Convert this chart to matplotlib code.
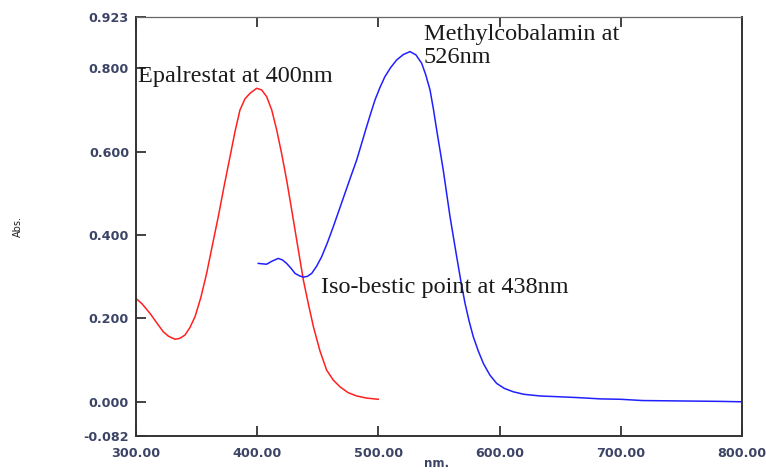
import matplotlib
matplotlib.use("Agg")
import matplotlib.pyplot as plt

# Epalrestat (red)
red_nm = [300, 305, 311.6, 317, 322.5, 327, 332.2, 336, 340.4, 344.5, 348.7, 353.5, 358.3, 363, 367.9, 372.7,
          377.6, 381.7, 385.8, 390, 394.1, 399.6, 403.7, 407.8, 412, 416.1, 420.2, 424.3, 428.5, 432.6, 438.1,
          442.2, 446.4, 451.8, 457.3, 462.8, 468.3, 475, 482.1, 490, 499.9]
red_abs = [0.248, 0.235, 0.212, 0.190, 0.168, 0.157, 0.150, 0.152, 0.160, 0.178, 0.204, 0.250, 0.308, 0.375,
           0.444, 0.517, 0.588, 0.648, 0.700, 0.727, 0.740, 0.752, 0.748, 0.732, 0.700, 0.652, 0.595, 0.532,
           0.460, 0.388, 0.292, 0.235, 0.180, 0.122, 0.076, 0.052, 0.036, 0.022, 0.014, 0.009, 0.006]

# Methylcobalamin (blue)
blue_nm = [400.9, 404, 407.8, 412, 417.4, 421, 424.3, 428, 431.2, 435, 438.1, 441.5, 445.0, 449, 453.2, 458,
           462.8, 467.6, 472.4, 477.2, 482.1, 486.2, 490.3, 493.8, 497.2, 501.3, 505.4, 510.2, 515.1, 520.6,
           526.1, 531, 535.7, 539, 542.6, 545.4, 548.1, 550.8, 553.5, 556.3, 559.1, 561.9, 564.6, 568, 571.5,
           574.9, 578.3, 582.4, 586.6, 592, 597.6, 604, 611.3, 620, 633.3, 649.8, 665, 683, 700, 718, 750, 782, 800]
blue_abs = [0.332, 0.331, 0.330, 0.337, 0.344, 0.340, 0.332, 0.320, 0.308, 0.302, 0.299, 0.301, 0.308, 0.325,
            0.348, 0.382, 0.420, 0.460, 0.500, 0.540, 0.580, 0.620, 0.660, 0.693, 0.724, 0.754, 0.780, 0.802,
            0.820, 0.833, 0.840, 0.832, 0.812, 0.785, 0.748, 0.702, 0.652, 0.604, 0.556, 0.500, 0.444, 0.395,
            0.348, 0.290, 0.236, 0.193, 0.156, 0.122, 0.092, 0.064, 0.044, 0.032, 0.024, 0.018, 0.014, 0.012,
            0.010, 0.007, 0.006, 0.003, 0.002, 0.001, 0.000]

xticks = [300, 400, 500, 600, 700, 800]
yticks = [-0.082, 0.0, 0.2, 0.4, 0.6, 0.8, 0.923]

fig = plt.figure(figsize=(7.66, 4.72), dpi=100)
ax = fig.add_axes([0.1775, 0.0763, 0.7912, 0.8877])
ax.plot(red_nm, red_abs, color="#ff2020", lw=1.1)
ax.plot(blue_nm, blue_abs, color="#2020ff", lw=1.1)
ax.set_xlim(300, 800)
ax.set_ylim(-0.082, 0.923)
ax.set_xticks(xticks)
ax.set_xticklabels([f"{v:.2f}" for v in xticks])
ax.set_yticks(yticks)
ax.set_yticklabels([f"{v:.3f}" for v in yticks])
ax.tick_params(direction="in", length=7, width=1.2, top=True, right=False, colors="#222222",
               labelcolor="#3c4466", labelsize=9.2)
ax.tick_params(axis="x", pad=8)
ax.tick_params(axis="y", pad=5)
for lab in ax.get_xticklabels() + ax.get_yticklabels():
    lab.set_fontweight("bold")
for s in ax.spines.values():
    s.set_color("#333333")
    s.set_linewidth(1.4)
ax.spines["top"].set_color("#666666")
ax.spines["top"].set_linewidth(0.9)

fig.text(0.024, 0.52, "Abs.", rotation=90, fontsize=7, ha="center", va="center", color="#222222")
fig.text(0.57, 0.005, "nm.", fontsize=8.5, ha="center", va="bottom", color="#3c4466", fontweight="bold")

serif = "Liberation Serif"
fs = 17.5
ax.text(301.6, 0.767, "Epalrestat at 400nm", family=serif, fontsize=fs, va="baseline", ha="left", color="#1a1a1a")
ax.text(537.6, 0.868, "Methylcobalamin at", family=serif, fontsize=fs, va="baseline", ha="left", color="#1a1a1a")
ax.text(537.6, 0.813, "526nm", family=serif, fontsize=fs, va="baseline", ha="left", color="#1a1a1a")
ax.text(452.3, 0.261, "Iso-bestic point at 438nm", family=serif, fontsize=fs, va="baseline", ha="left",
        color="#1a1a1a")

fig.savefig("out.png", dpi=100)
